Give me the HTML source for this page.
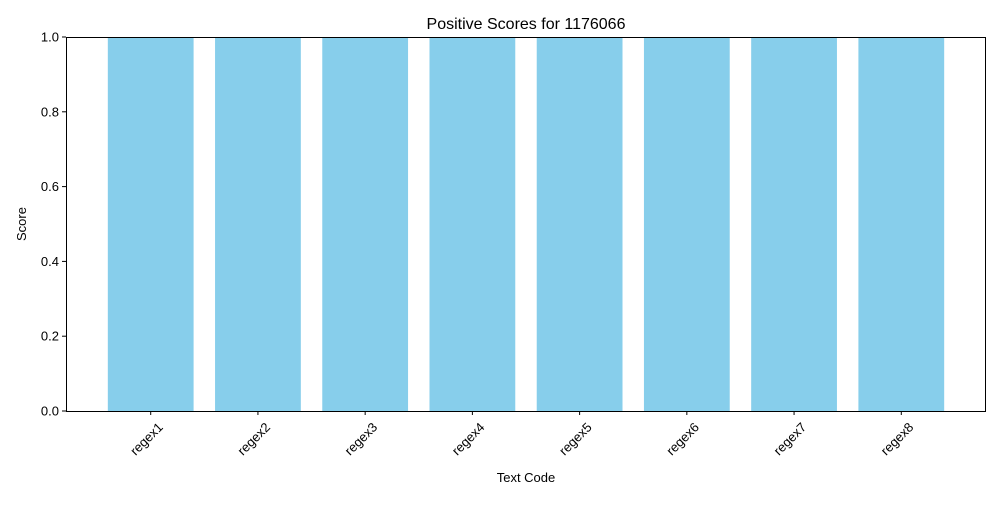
<!DOCTYPE html>
<html><head><meta charset="utf-8"><style>
body{margin:0;background:#fff;font-family:"Liberation Sans","DejaVu Sans",sans-serif;}
</style></head><body>
<svg id="chart" width="1000" height="500" xmlns="http://www.w3.org/2000/svg">
<rect width="1000" height="500" fill="#fff"/>
<text x="526" y="29" font-size="16" text-anchor="middle" fill="#000">Positive Scores for 1176066</text>
<text x="526" y="482" font-size="13" text-anchor="middle" fill="#000">Text Code</text>
<text x="0" y="0" font-size="13" text-anchor="middle" fill="#000" transform="translate(26,224) rotate(-90)">Score</text>
<g id="bars"></g><g id="axes"></g>
</svg>
<script>
const categories=["regex1","regex2","regex3","regex4","regex5","regex6","regex7","regex8"];
const scores=[1,1,1,1,1,1,1,1];
const yTicks=[0,0.2,0.4,0.6,0.8,1.0];
const L=66,R=986,T=37,B=411,NS="http://www.w3.org/2000/svg";
const n=categories.length,xmin=-0.4-0.05*(n-1+0.8),xmax=n-1+0.4+0.05*(n-1+0.8);
const xs=v=>L+(v-xmin)/(xmax-xmin)*(R-L);
const ys=v=>B-(v-0)/(1-0)*(B-T);
const bars=document.getElementById('bars'),axes=document.getElementById('axes');
function mk(t,a,p){const e=document.createElementNS(NS,t);for(const k in a)e.setAttribute(k,a[k]);p.appendChild(e);return e;}
categories.forEach((c,i)=>{
 const r=mk('rect',{x:xs(i-0.4),y:ys(scores[i]),width:xs(i+0.4)-xs(i-0.4),height:ys(0)-ys(scores[i]),fill:'#87ceeb'},bars);
 
 
 const x=xs(i);
 mk('line',{x1:x,x2:x,y1:B,y2:B+4,stroke:'#000','stroke-width':1},axes);
 const t=mk('text',{x:0,y:0,'font-size':13,'text-anchor':'end',transform:`translate(${x+13},${B+17}) rotate(-45)`},axes);
 t.textContent=c;
 
 
});
yTicks.forEach(v=>{
 const y=ys(v);
 mk('line',{x1:L-4,x2:L,y1:y,y2:y,stroke:'#000','stroke-width':1},axes);
 const t=mk('text',{x:L-7,y:y+4.5,'font-size':13,'text-anchor':'end'},axes);
 t.textContent=v.toFixed(1);
 
 
});
const f=mk('rect',{x:L+0.5,y:T+0.5,width:R-L-1,height:B-T,fill:'none',stroke:'#000','stroke-width':1},axes);


</script>
</body></html>
